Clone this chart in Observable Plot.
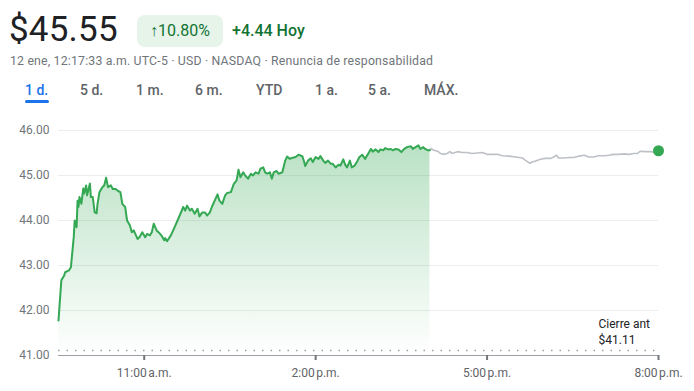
<!DOCTYPE html>
<html>
<head>
<meta charset="utf-8">
<script src="https://cdn.jsdelivr.net/npm/d3@7"></script>
<script src="https://cdn.jsdelivr.net/npm/@observablehq/plot@0.6"></script>
<style>
  html, body { margin: 0; padding: 0; background: #fff; }
  body { width: 694px; height: 391px; position: relative; overflow: hidden; font-family: Roboto, "Noto Sans", sans-serif; }
  .abs { position: absolute; white-space: nowrap; }
  #price { left: 9px; top: 9px; font-size: 35px; color: #202124; letter-spacing: 0.2px; }
  #badge { left: 137px; top: 15px; width: 86px; height: 32px; border-radius: 8px; background: #e6f4ea; color: #137333; font-size: 16px; line-height: 32px; text-align: center; }
  #chg { left: 232px; top: 15px; line-height: 32px; font-size: 16px; color: #137333; font-weight: 500; }
  #sub { left: 10px; top: 54px; font-size: 12.3px; letter-spacing: 0.18px; color: #70757a; }
  .tab { top: 82px; font-size: 14px; color: #5f6368; font-weight: 500; }
  .tab.on { color: #1a73e8; }
  #bar { left: 25px; top: 100px; width: 24px; height: 3px; border-radius: 2px; background: #1a73e8; }
  #chart { position: absolute; left: 0; top: 115px; }
</style>
</head>
<body>
<div id="price" class="abs">$45.55</div>
<div id="badge" class="abs">↑10.80%</div>
<div id="chg" class="abs">+4.44 Hoy</div>
<div id="sub" class="abs">12 ene, 12:17:33 a.m. UTC-5 · USD · NASDAQ · Renuncia de responsabilidad</div>
<div id="tabs"></div>
<div id="bar" class="abs"></div>
<div id="chart"></div>
<script>
// ---------- data ----------
const tabLabels = ["1 d.", "5 d.", "1 m.", "6 m.", "YTD", "1 a.", "5 a.", "MÁX."];

const regTimes = ["09:30","09:32","09:33","09:36","09:37","09:41","09:43","09:44","09:46","09:47","09:49","09:50","09:51","09:52","09:54","09:56","09:57","09:59","10:00","10:03","10:04","10:06","10:08","10:10","10:11","10:13","10:16","10:18","10:20","10:22","10:25","10:27","10:30","10:33","10:35","10:37","10:40","10:42","10:45","10:47","10:49","10:53","10:55","10:58","11:01","11:03","11:06","11:08","11:10","11:13","11:15","11:18","11:21","11:22","11:24","11:28","11:31","11:35","11:38","11:41","11:43","11:45","11:48","11:50","11:53","11:56","11:58","12:01","12:04","12:06","12:09","12:11","12:14","12:17","12:19","12:22","12:25","12:27","12:31","12:34","12:37","12:39","12:41","12:44","12:46","12:49","12:52","12:54","12:57","13:00","13:02","13:05","13:07","13:09","13:12","13:14","13:16","13:19","13:21","13:25","13:28","13:30","13:33","13:35","13:39","13:42","13:46","13:48","13:49","13:52","13:55","13:57","14:00","14:03","14:05","14:08","14:10","14:13","14:16","14:18","14:21","14:24","14:26","14:29","14:31","14:33","14:36","14:38","14:41","14:44","14:46","14:49","14:52","14:55","14:58","15:00","15:03","15:06","15:08","15:11","15:13","15:16","15:19","15:21","15:24","15:27","15:30","15:33","15:36","15:40","15:42","15:45","15:48","15:50","15:53","15:55","15:58","16:00"];
const regPrices = [41.78,42.38,42.67,42.78,42.85,42.89,42.96,43.18,43.63,44.00,43.85,44.44,44.30,44.52,44.37,44.71,44.60,44.78,44.56,44.82,44.52,44.52,44.18,44.16,44.37,44.63,44.74,44.78,44.95,44.74,44.78,44.70,44.70,44.65,44.63,44.37,44.30,44.00,43.89,43.74,43.78,43.59,43.63,43.74,43.63,43.70,43.67,43.74,43.93,43.78,43.74,43.67,43.56,43.61,43.54,43.67,43.81,44.00,44.15,44.30,44.22,44.33,44.22,44.26,44.15,44.26,44.09,44.18,44.18,44.11,44.18,44.30,44.44,44.58,44.44,44.37,44.56,44.61,44.63,44.81,44.89,45.13,44.96,45.07,45.00,44.93,45.04,45.00,45.07,45.04,45.15,45.18,45.07,45.04,45.07,44.93,45.07,45.10,45.04,45.07,45.33,45.42,45.37,45.39,45.41,45.46,45.43,45.30,45.21,45.33,45.38,45.30,45.41,45.37,45.43,45.33,45.28,45.33,45.26,45.26,45.18,45.24,45.22,45.36,45.24,45.18,45.33,45.18,45.22,45.33,45.41,45.46,45.37,45.48,45.59,45.53,45.58,45.52,45.58,45.56,45.61,45.58,45.59,45.56,45.59,45.58,45.52,45.59,45.63,45.65,45.59,45.63,45.67,45.59,45.63,45.59,45.56,45.56];

const extTimes = ["16:01","16:04","16:08","16:11","16:15","16:18","16:21","16:23","16:29","16:34","16:39","16:44","16:50","16:55","17:00","17:05","17:11","17:16","17:23","17:30","17:37","17:40","17:45","17:47","17:51","17:56","18:01","18:07","18:10","18:13","18:15","18:21","18:26","18:31","18:36","18:42","18:47","18:52","18:57","19:03","19:08","19:13","19:18","19:24","19:29","19:34","19:38","19:41","19:46","19:52","19:57","20:00"];
const extPrices = [45.60,45.56,45.54,45.49,45.47,45.49,45.53,45.49,45.53,45.51,45.51,45.49,45.50,45.51,45.47,45.47,45.47,45.44,45.43,45.41,45.39,45.34,45.27,45.30,45.32,45.36,45.38,45.38,45.41,45.45,45.39,45.39,45.40,45.40,45.43,45.45,45.41,45.41,45.44,45.44,45.45,45.47,45.47,45.48,45.47,45.49,45.49,45.54,45.53,45.53,45.51,45.55];

const prevClose = 41.11;
const yTicks = [41, 42, 43, 44, 45, 46];
const xTickTimes = ["11:00", "14:00", "17:00", "20:00"];
const xTickLabels = ["11:00\u202Fa.m.", "2:00\u202Fp.m.", "5:00\u202Fp.m.", "8:00\u202Fp.m."];
const closeLabel = ["Cierre ant", "$41.11"];

// ---------- tabs ----------
const tabX = [25, 80, 136, 195, 256, 315, 368, 424];
const tabs = document.getElementById("tabs");
tabLabels.forEach((t, i) => {
  const d = document.createElement("div");
  d.className = "abs tab" + (i === 0 ? " on" : "");
  d.style.left = tabX[i] + "px";
  d.textContent = t;
  tabs.appendChild(d);
});

// ---------- chart ----------
const parse = s => { const [h, m] = s.split(":").map(Number); return new Date(Date.UTC(2024, 0, 11, h, m)); };
const reg = regTimes.map((t, i) => ({t: parse(t), p: regPrices[i]}));
const ext = [reg[reg.length - 1], ...extTimes.map((t, i) => ({t: parse(t), p: extPrices[i]}))];
const last = ext[ext.length - 1];
const xTicks = xTickTimes.map(parse);
const fmtX = d => xTickLabels[xTicks.findIndex(t => +t === +d)];

const green = "#34a853";
const chart = Plot.plot({
  width: 694,
  height: 276,
  marginLeft: 58,
  marginRight: 36,
  marginTop: 15,
  marginBottom: 36,
  style: {fontFamily: "Roboto, sans-serif", fontSize: "12px", color: "#5f6368", background: "white", overflow: "visible"},
  x: {type: "utc", domain: [parse("09:30"), parse("20:00")], label: null},
  y: {domain: [41, 46], label: null},
  marks: [
    Plot.gridY(yTicks.filter(d => d > 41), {stroke: "#ebedef", strokeOpacity: 1}),
    Plot.areaY(reg, {x: "t", y1: 41, y2: "p", fill: "url(#ggrad)"}),
    Plot.ruleY([prevClose], {stroke: "#9aa0a6", strokeWidth: 1.5, strokeDasharray: "1.5,7"}),
    Plot.ruleY([41], {stroke: "#9aa0a6", strokeWidth: 1}),
    Plot.line(ext, {x: "t", y: "p", stroke: "#bdc1c6", strokeWidth: 1.6}),
    Plot.line(reg, {x: "t", y: "p", stroke: green, strokeWidth: 2}),
    Plot.dot([last], {x: "t", y: "p", r: 5.5, fill: green}),
    Plot.axisY(yTicks, {label: null, tickSize: 0, tickPadding: 9, tickFormat: d => d.toFixed(2), fill: "#70757a", fontSize: 12}),
    Plot.axisX(xTicks, {label: null, tickSize: 5, tickPadding: 8, tickFormat: fmtX, stroke: "#70757a", strokeWidth: 2, fill: "#5f6368", fontSize: 12}),
    Plot.text([closeLabel.join("\n")], {frameAnchor: "right", y: prevClose, text: d => d, textAnchor: "start", lineAnchor: "bottom", dx: -60, dy: -7, lineHeight: 1.33, fill: "#202124", fontSize: 12})
  ]
});

const svg = d3.select(chart);
const defs = svg.insert("defs", ":first-child");
const grad = defs.append("linearGradient").attr("id", "ggrad").attr("x1", 0).attr("y1", 0).attr("x2", 0).attr("y2", 1);
grad.append("stop").attr("offset", "0%").attr("stop-color", green).attr("stop-opacity", 0.34);
grad.append("stop").attr("offset", "100%").attr("stop-color", green).attr("stop-opacity", 0.0);
document.getElementById("chart").appendChild(chart);
</script>
</body>
</html>
